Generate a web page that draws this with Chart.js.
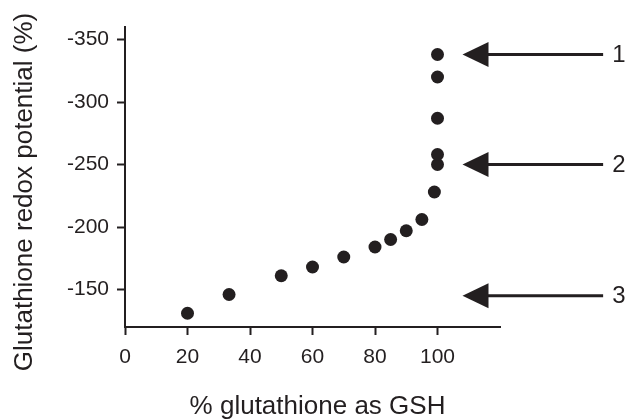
<!DOCTYPE html>
<html>
<head>
<meta charset="utf-8">
<script src="https://cdn.jsdelivr.net/npm/chart.js@4/dist/chart.umd.min.js"></script>
<style>
  html, body { margin: 0; padding: 0; background: #fff; }
  #wrap { width: 628px; height: 419px; position: relative; }
</style>
</head>
<body>
<div id="wrap"><canvas id="chart"></canvas></div>
<script>
// data
const xValues = [20, 33.3, 50, 60, 70, 80, 85, 90, 95, 99, 100, 100, 100, 100, 100];
const yValues = [-131, -146, -161, -168, -176, -184, -190, -197, -206, -228, -250, -258, -287, -320, -338];
const xTicks = [0, 20, 40, 60, 80, 100];
const yTicks = [-350, -300, -250, -200, -150];
const arrowLevels = [-338, -250, -145];
const arrowLabels = ['1', '2', '3'];
const xTitle = '% glutathione as GSH';
const yTitle = 'Glutathione redox potential (%)';

const INK = '#231f20';
const FONT = '"Liberation Sans", Arial, Helvetica, sans-serif';

// arrows + axis titles drawn on top of the chart
const extras = {
  id: 'extras',
  afterDraw(chart) {
    const ctx = chart.ctx;
    const xs = chart.scales.x, ys = chart.scales.y;
    const area = chart.chartArea;
    ctx.save();
    ctx.fillStyle = INK;
    ctx.strokeStyle = INK;

    arrowLevels.forEach((lvl, i) => {
      const y = ys.getPixelForValue(lvl);
      const tip = xs.getPixelForValue(108);
      const end = xs.getPixelForValue(153);
      const base = tip + 26;
      ctx.lineWidth = 3;
      ctx.beginPath();
      ctx.moveTo(base - 2, y);
      ctx.lineTo(end, y);
      ctx.stroke();
      ctx.beginPath();
      ctx.moveTo(tip, y);
      ctx.lineTo(base, y - 12.5);
      ctx.lineTo(base, y + 12.5);
      ctx.closePath();
      ctx.fill();
      ctx.font = '24px ' + FONT;
      ctx.textAlign = 'left';
      ctx.textBaseline = 'middle';
      ctx.fillText(arrowLabels[i], end + 9, y + 1);
    });

    // axis titles
    ctx.font = '26px ' + FONT;
    ctx.textAlign = 'center';
    ctx.textBaseline = 'alphabetic';
    ctx.fillText(xTitle, (area.left + area.right) / 2 + 5, 414);

    ctx.save();
    ctx.translate(32, (area.top + area.bottom) / 2 + 15);
    ctx.rotate(-Math.PI / 2);
    ctx.fillText(yTitle, 0, 0);
    ctx.restore();

    ctx.restore();
  }
};

const axisStyle = {
  grid: {
    display: true,
    drawOnChartArea: false,
    drawTicks: true,
    tickLength: 8,
    tickWidth: 2,
    tickColor: INK
  },
  border: { display: true, width: 2, color: INK }
};

new Chart(document.getElementById('chart'), {
  type: 'scatter',
  data: {
    datasets: [{
      data: xValues.map((x, i) => ({ x, y: yValues[i] })),
      backgroundColor: INK,
      borderColor: INK,
      borderWidth: 0,
      pointRadius: 6.5,
      pointHoverRadius: 6.5
    }]
  },
  options: {
    responsive: true,
    maintainAspectRatio: false,
    animation: false,
    layout: { padding: { top: 27, right: 128, left: 0, bottom: 0 } },
    plugins: { legend: { display: false }, tooltip: { enabled: false } },
    scales: {
      x: {
        type: 'linear',
        min: 0,
        max: 120,
        ...axisStyle,
        afterBuildTicks: s => { s.ticks = xTicks.map(v => ({ value: v })); },
        afterFit: s => { s.height = 92; },
        ticks: { color: INK, font: { family: FONT, size: 21 }, padding: 10, maxRotation: 0 }
      },
      y: {
        type: 'linear',
        min: -360,
        max: -120,
        reverse: true,
        ...axisStyle,
        afterBuildTicks: s => { s.ticks = yTicks.map(v => ({ value: v })); },
        afterFit: s => { s.width = 125; },
        ticks: { color: INK, font: { family: FONT, size: 21 }, padding: 8 }
      }
    }
  },
  plugins: [extras]
});
</script>
</body>
</html>
